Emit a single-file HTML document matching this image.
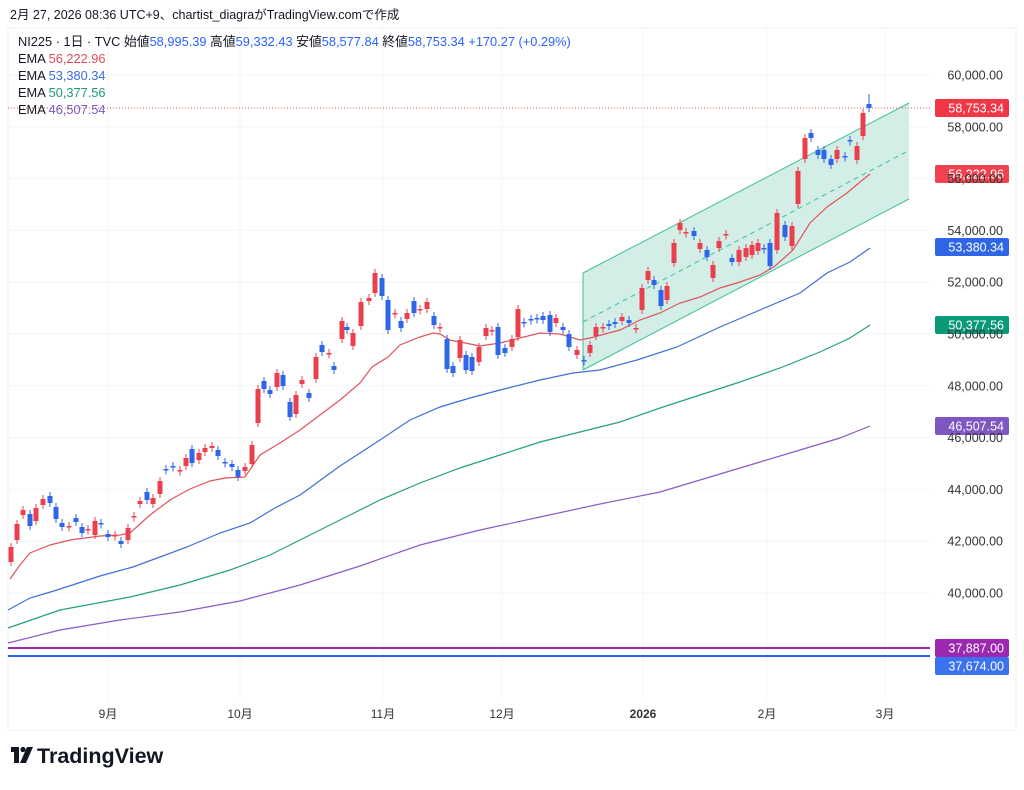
<!DOCTYPE html>
<html><head><meta charset="utf-8">
<style>
body{margin:0;background:#fff;width:1024px;height:785px;overflow:hidden;font-family:"Liberation Sans","Noto Sans CJK JP",sans-serif;}
svg text{font-family:"Liberation Sans","Noto Sans CJK JP",sans-serif;}
</style></head><body>
<svg id="s" width="1024" height="785" xmlns="http://www.w3.org/2000/svg">
<rect x="0" y="0" width="1024" height="785" fill="#fff"/>
<text x="10" y="19" font-size="12.5" fill="#131722">2月 27, 2026 08:36 UTC+9、chartist_diagraがTradingView.comで作成</text>
<rect x="8" y="28" width="1008" height="702" fill="none" stroke="#eef0f3"/>
<g id="grid" stroke="#f2f4f7" stroke-width="1"></g>
<polygon points="583,273 909,103 909,199 583,370" fill="#d3eee7" stroke="none"/>
<line x1="583" y1="273" x2="909" y2="103" stroke="#3fbf9a" stroke-width="1"/>
<line x1="583" y1="370" x2="909" y2="199" stroke="#3fbf9a" stroke-width="1"/>
<line x1="583" y1="322" x2="906" y2="152" stroke="#3fbf9a" stroke-width="1" stroke-dasharray="5,4"/>
<line x1="583" y1="273" x2="583" y2="370" stroke="#3fbf9a" stroke-width="1"/>
<line x1="8" y1="108" x2="930" y2="108" stroke="#e0544f" stroke-width="1" stroke-dasharray="1,2"/>
<line x1="8" y1="648" x2="930" y2="648" stroke="#9c27b0" stroke-width="2"/>
<line x1="8" y1="656" x2="930" y2="656" stroke="#2962ff" stroke-width="2"/>
<g id="ema" fill="none" stroke-width="1.2"></g>
<g id="c"></g>
<g id="ax" font-size="12.5" fill="#333" text-anchor="end"></g>
<g font-size="12.8" fill="#131722">
<text x="18" y="46">NI225 · 1日 · TVC  始値<tspan fill="#2962ff">58,995.39</tspan>  高値<tspan fill="#2962ff">59,332.43</tspan>  安値<tspan fill="#2962ff">58,577.84</tspan>  終値<tspan fill="#2962ff">58,753.34</tspan>  <tspan fill="#2962ff">+170.27 (+0.29%)</tspan></text>
<text x="18" y="63">EMA  <tspan fill="#e04a55">56,222.96</tspan></text>
<text x="18" y="80">EMA  <tspan fill="#3a6fd8">53,380.34</tspan></text>
<text x="18" y="97">EMA  <tspan fill="#1e9b7a">50,377.56</tspan></text>
<text x="18" y="114">EMA  <tspan fill="#7e57c2">46,507.54</tspan></text>
</g>
<g font-size="12" fill="#333" text-anchor="middle">
<text x="108" y="718">9月</text><text x="240" y="718">10月</text><text x="383" y="718">11月</text><text x="502" y="718">12月</text>
<text x="643" y="718" font-weight="bold">2026</text><text x="767" y="718">2月</text><text x="885" y="718">3月</text>
</g>
<g>
<rect x="11" y="747" width="8" height="5" fill="#131722"/><rect x="14" y="747" width="5" height="16" fill="#131722"/>
<circle cx="23" cy="749.5" r="2.6" fill="#131722"/><polygon points="27,747 33,747 26,763 20,763" fill="#131722"/>
<text x="37" y="763" font-size="21.5" font-weight="bold" fill="#131722">TradingView</text>
</g>
</svg>
<script>
var NS="http://www.w3.org/2000/svg";
function el(p,t,a,tx){var e=document.createElementNS(NS,t);for(var k in a)e.setAttribute(k,a[k]);if(tx)e.textContent=tx;p.appendChild(e);return e;}
var g=document.getElementById('grid');
[108,240,383,502,643,767,885].forEach(function(x){el(g,'line',{x1:x,y1:28,x2:x,y2:700});});
var ax=document.getElementById('ax');
for(var p=60000;p>=40000;p-=2000){var y=75+(60000-p)*0.0259;el(g,'line',{x1:8,y1:y,x2:930,y2:y});
el(ax,'text',{x:1003,y:y+4.5},p.toLocaleString('en-US')+'.00');}
var E=document.getElementById('ema');
function pl(pts,c){el(E,'polyline',{points:pts.map(function(p){return p.join(',')}).join(' '),stroke:c});}
pl([[10,579],[20,565],[30,553],[50,545],[70,540],[100,536],[120,535],[130,533],[150,515],[170,500],[190,489],[210,481],[225,478],[245,477],[260,455],[280,443],[300,430],[320,415],[340,400],[360,383],[372,367],[388,357],[400,345],[420,337],[433,333],[440,334],[450,340],[460,342],[480,346],[500,343],[520,338],[540,333],[560,334],[570,337],[580,340],[590,338],[620,330],[640,320],[660,313],[680,303],[700,297],[720,288],[740,282],[760,275],[775,266],[793,250],[810,223],[827,207],[847,193],[860,182],[870,174]],'#e0545c');
pl([[8,610],[30,598],[57,590],[100,576],[133,567],[160,557],[187,547],[220,533],[250,523],[275,508],[300,495],[307,490],[340,466],[380,440],[410,420],[440,407],[470,398],[500,390],[540,380],[573,373],[600,370],[637,360],[677,347],[720,327],[760,310],[800,293],[827,273],[850,262],[870,248]],'#3d6fd6');
pl([[8,628],[60,610],[130,597],[180,585],[230,570],[270,555],[310,535],[340,520],[380,500],[420,483],[460,468],[500,455],[540,442],[580,432],[620,422],[660,408],[700,395],[740,382],[780,368],[820,352],[850,338],[870,325]],'#26a07d');
pl([[8,643],[60,630],[120,620],[180,612],[240,601],[300,585],[360,566],[420,545],[480,530],[540,517],[600,504],[660,492],[700,480],[760,462],[800,450],[840,438],[870,426]],'#8a5cc8');
var C=[[11,547,562,'r'],[17,524,540,'r'],[23,510,515,'r'],[30,514,526,'b'],[36,508,521,'r'],[43,499,505,'r'],[50,496,503,'b'],[56,507,519,'b'],[62,523,527,'b'],[69,526,527,'r'],[76,518,522,'b'],[82,527,533,'b'],[88,529,530,'r'],[95,521,535,'r'],[101,523,524,'b'],[108,534,537,'b'],[115,535,536,'r'],[121,541,544,'b'],[128,528,540,'r'],[134,516,517,'r'],[140,501,504,'r'],[147,492,500,'b'],[153,498,504,'r'],[160,481,494,'r'],[166,469,470,'b'],[173,466,467,'b'],[180,470,471,'r'],[186,458,466,'r'],[192,449,463,'b'],[199,453,460,'r'],[205,448,452,'r'],[212,446,448,'r'],[218,450,456,'b'],[225,462,463,'b'],[232,464,467,'b'],[238,470,477,'b'],[245,467,471,'r'],[252,445,464,'r'],[258,389,423,'r'],[264,381,389,'b'],[270,390,394,'b'],[277,373,387,'r'],[283,375,386,'b'],[290,402,417,'b'],[296,395,414,'r'],[302,380,384,'r'],[309,393,398,'b'],[316,357,379,'r'],[322,345,352,'b'],[329,353,354,'r'],[334,366,370,'b'],[342,321,339,'r'],[347,327,330,'b'],[353,333,346,'r'],[361,302,326,'r'],[369,298,301,'r'],[375,273,293,'r'],[382,278,296,'b'],[388,300,330,'b'],[395,313,314,'r'],[401,321,328,'b'],[407,313,319,'r'],[414,301,313,'b'],[420,309,310,'r'],[427,302,309,'r'],[434,316,325,'b'],[440,327,328,'r'],[447,339,369,'b'],[453,366,373,'b'],[460,340,358,'r'],[466,355,370,'b'],[472,357,371,'b'],[479,347,362,'r'],[486,328,336,'r'],[492,330,331,'r'],[498,327,355,'b'],[505,348,353,'b'],[512,339,347,'r'],[518,309,337,'r'],[524,322,323,'b'],[531,319,320,'b'],[537,318,319,'b'],[543,316,320,'b'],[550,315,332,'b'],[556,318,323,'r'],[563,327,330,'b'],[569,334,347,'b'],[577,350,355,'r'],[584,360,361,'b'],[590,345,353,'r'],[596,327,336,'r'],[603,327,328,'r'],[609,324,326,'b'],[615,322,324,'b'],[622,317,321,'r'],[629,320,323,'b'],[636,328,329,'r'],[642,288,310,'r'],[648,271,280,'r'],[654,280,285,'b'],[661,290,306,'b'],[667,286,300,'r'],[674,243,263,'r'],[680,223,230,'r'],[686,232,233,'r'],[694,231,236,'b'],[700,243,249,'r'],[707,250,257,'b'],[713,265,278,'r'],[719,241,248,'r'],[726,234,235,'r'],[732,258,262,'b'],[739,250,262,'r'],[746,248,257,'r'],[752,245,255,'r'],[758,243,251,'r'],[764,248,249,'b'],[770,243,266,'b'],[777,213,250,'r'],[785,225,237,'b'],[792,226,246,'r'],[798,171,204,'r'],[805,138,159,'r'],[811,133,138,'b'],[818,150,155,'b'],[824,150,159,'b'],[831,159,165,'b'],[837,150,159,'r'],[845,156,157,'b'],[850,140,141,'b'],[857,146,160,'r'],[863,113,136,'r'],[869,104,108,'b']];
var cg=document.getElementById('c');
C.forEach(function(c){var col=c[3]=='r'?'#e8414d':'#2f66e8';var h=Math.max(1.5,c[2]-c[1]);
el(cg,'line',{x1:c[0],y1:c[1]-4,x2:c[0],y2:c[1]+h+4,stroke:col,'stroke-width':1});
el(cg,'rect',{x:c[0]-2.5,y:c[1],width:5,height:h,fill:col});});
el(cg,'line',{x1:869,y1:94,x2:869,y2:112,stroke:'#2f66e8'});
var L=[[108,'58,753.34','#f23645'],[174,'56,222.96','#f0424f'],[247,'53,380.34','#2f66e8'],[325,'50,377.56','#0b9a78'],[426,'46,507.54','#7e57c2'],[648,'37,887.00','#9c27b0'],[666,'37,674.00','#3b72f0']];
L.forEach(function(l){el(cg,'rect',{x:935,y:l[0]-9,width:74,height:18,rx:2,fill:l[2]});
el(cg,'text',{x:1004,y:l[0]+4.5,'font-size':12.5,fill:'#fff','text-anchor':'end'},l[1]);});
</script>
</body></html>
